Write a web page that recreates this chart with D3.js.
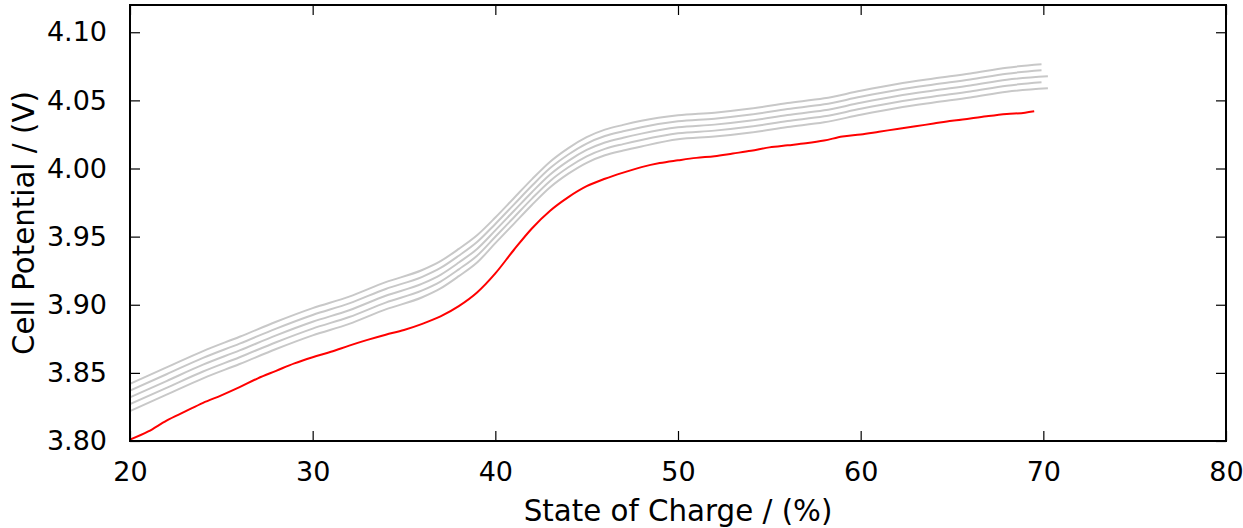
<!DOCTYPE html>
<html>
<head>
<meta charset="utf-8">
<script src="https://cdn.jsdelivr.net/npm/d3@7"></script>
<style>
  html, body { margin: 0; padding: 0; background: #fff; }
  svg { display: block; }
  text { font-family: "DejaVu Sans", sans-serif; fill: #000; }
</style>
</head>
<body>
<svg id="chart" width="1243" height="528"></svg>
<script>
// ---- data ----
const xTicks = [20, 30, 40, 50, 60, 70, 80];
const yTicks = [3.80, 3.85, 3.90, 3.95, 4.00, 4.05, 4.10];

// red (measured) curve
const socRed = [20,21,22,23,24,25,26,27,28,29,30,31,32,33,34,35,36,37,38,39,40,41,42,43,44,45,46,47,48,49,50,51,52,53,54,55,56,57,58,59,60,61,62,63,64,65,66,67,68,69,69.5];
const vRed = [3.801,3.807,3.815,3.8215,3.828,3.8335,3.8395,3.846,3.8515,3.857,3.8615,3.8655,3.870,3.8742,3.878,3.8815,3.886,3.8915,3.899,3.909,3.923,3.940,3.956,3.969,3.979,3.987,3.9925,3.997,4.001,4.004,4.006,4.0078,4.009,4.011,4.013,4.0155,4.017,4.0185,4.0205,4.0235,4.025,4.027,4.029,4.031,4.033,4.035,4.0367,4.0385,4.040,4.041,4.042];

// grey (model) curves
const socGreyA = [20,22,24,26,28,30,32,34,36,37,38,39,40,41,42,43,44,45,46,47,48,50,52,54,56,58,60,62,64,66,68,69.9];
const socGreyB = [20,22,24,26,28,30,32,34,36,37,38,39,40,41,42,43,44,45,46,47,48,50,52,54,56,58,60,62,64,66,68,70.25];
const vGrey1 = [3.842,3.854,3.866,3.8765,3.8875,3.8975,3.906,3.9166,3.9255,3.932,3.941,3.951,3.964,3.978,3.992,4.005,4.015,4.023,4.0285,4.032,4.035,4.039,4.041,4.044,4.048,4.0515,4.057,4.062,4.066,4.0697,4.074,4.0765];
const vGrey2 = [3.837,3.849,3.861,3.8715,3.8825,3.8925,3.901,3.9116,3.9205,3.927,3.936,3.946,3.9593,3.9733,3.9873,4.0003,4.0103,4.0183,4.0238,4.0273,4.0303,4.0346,4.0366,4.0396,4.0436,4.0471,4.0526,4.0576,4.0616,4.0653,4.0696,4.0721];
const vGrey3 = [3.832,3.844,3.856,3.8665,3.8775,3.8875,3.896,3.9066,3.9155,3.922,3.931,3.941,3.9546,3.9686,3.9826,3.9956,4.0056,4.0136,4.0191,4.0226,4.0256,4.0302,4.0322,4.0352,4.0392,4.0427,4.0482,4.0532,4.0572,4.0609,4.0652,4.0677];
const vGrey4 = [3.827,3.839,3.851,3.8615,3.8725,3.8825,3.891,3.9016,3.9105,3.917,3.926,3.936,3.9499,3.9639,3.9779,3.9909,4.0009,4.0089,4.0144,4.0179,4.0209,4.0258,4.0278,4.0308,4.0348,4.0383,4.0438,4.0488,4.0528,4.0565,4.0608,4.0633];
const vGrey5 = [3.822,3.834,3.846,3.8565,3.8675,3.8775,3.886,3.8966,3.9055,3.912,3.921,3.931,3.9452,3.9592,3.9732,3.9862,3.9962,4.0042,4.0097,4.0132,4.0162,4.0214,4.0234,4.0264,4.0304,4.0339,4.0394,4.0444,4.0484,4.0521,4.0564,4.0589];

const greySeries = [
  {x: socGreyA, y: vGrey1},
  {x: socGreyA, y: vGrey2},
  {x: socGreyB, y: vGrey3},
  {x: socGreyA, y: vGrey4},
  {x: socGreyB, y: vGrey5}
];

// ---- layout ----
const L = 130, R = 1226, T = 5, B = 441;
const svg = d3.select("#chart");
const x = d3.scaleLinear().domain([20, 80]).range([L, R]);
const y = d3.scaleLinear().domain([3.80, 4.12]).range([B, T]);

const line = d3.line().x(d => x(d[0])).y(d => y(d[1])).curve(d3.curveMonotoneX);

svg.append("clipPath").attr("id", "clip")
  .append("rect").attr("x", L).attr("y", T).attr("width", R - L).attr("height", B - T);

const plot = svg.append("g").attr("clip-path", "url(#clip)");

greySeries.forEach(s => {
  plot.append("path")
    .datum(s.x.map((v, i) => [v, s.y[i]]))
    .attr("d", line)
    .attr("fill", "none")
    .attr("stroke", "#c8c8c8")
    .attr("stroke-width", 2);
});

plot.append("path")
  .datum(socRed.map((v, i) => [v, vRed[i]]))
  .attr("d", line)
  .attr("fill", "none")
  .attr("stroke", "#ff0000")
  .attr("stroke-width", 2);

// ---- axes (ticks inside, all four sides) ----
const tickLen = 10;
const fs = 27;

const xAxisB = d3.axisBottom(x).tickValues(xTicks).tickSizeInner(-tickLen).tickSizeOuter(0).tickPadding(tickLen + 11).tickFormat(d3.format("d"));
const xAxisT = d3.axisTop(x).tickValues(xTicks).tickSizeInner(-tickLen).tickSizeOuter(0).tickFormat("");
const yAxisL = d3.axisLeft(y).tickValues(yTicks).tickSizeInner(-tickLen).tickSizeOuter(0).tickPadding(tickLen + 13).tickFormat(d3.format(".2f"));
const yAxisR = d3.axisRight(y).tickValues(yTicks).tickSizeInner(-tickLen).tickSizeOuter(0).tickFormat("");

function styleAxis(g) {
  g.select(".domain").remove();
  g.selectAll(".tick line").attr("stroke", "#000").attr("stroke-width", 1.2);
  g.selectAll(".tick text").attr("font-size", fs).attr("font-family", "DejaVu Sans").attr("fill", "#000");
}

svg.append("g").attr("transform", `translate(0,${B})`).call(xAxisB).call(styleAxis);
svg.append("g").attr("transform", `translate(0,${T})`).call(xAxisT).call(styleAxis);
svg.append("g").attr("transform", `translate(${L},0)`).call(yAxisL).call(styleAxis);
svg.append("g").attr("transform", `translate(${R},0)`).call(yAxisR).call(styleAxis);

// frame
svg.append("rect")
  .attr("x", L).attr("y", T).attr("width", R - L).attr("height", B - T)
  .attr("fill", "none").attr("stroke", "#000").attr("stroke-width", 2);

// axis labels
svg.append("text")
  .attr("x", (L + R) / 2).attr("y", 521)
  .attr("text-anchor", "middle")
  .attr("font-size", 29.3)
  .text("State of Charge / (%)");

svg.append("text")
  .attr("transform", `translate(34,${(T + B) / 2}) rotate(-90)`)
  .attr("text-anchor", "middle")
  .attr("font-size", 29.3)
  .text("Cell Potential / (V)");
</script>
</body>
</html>
